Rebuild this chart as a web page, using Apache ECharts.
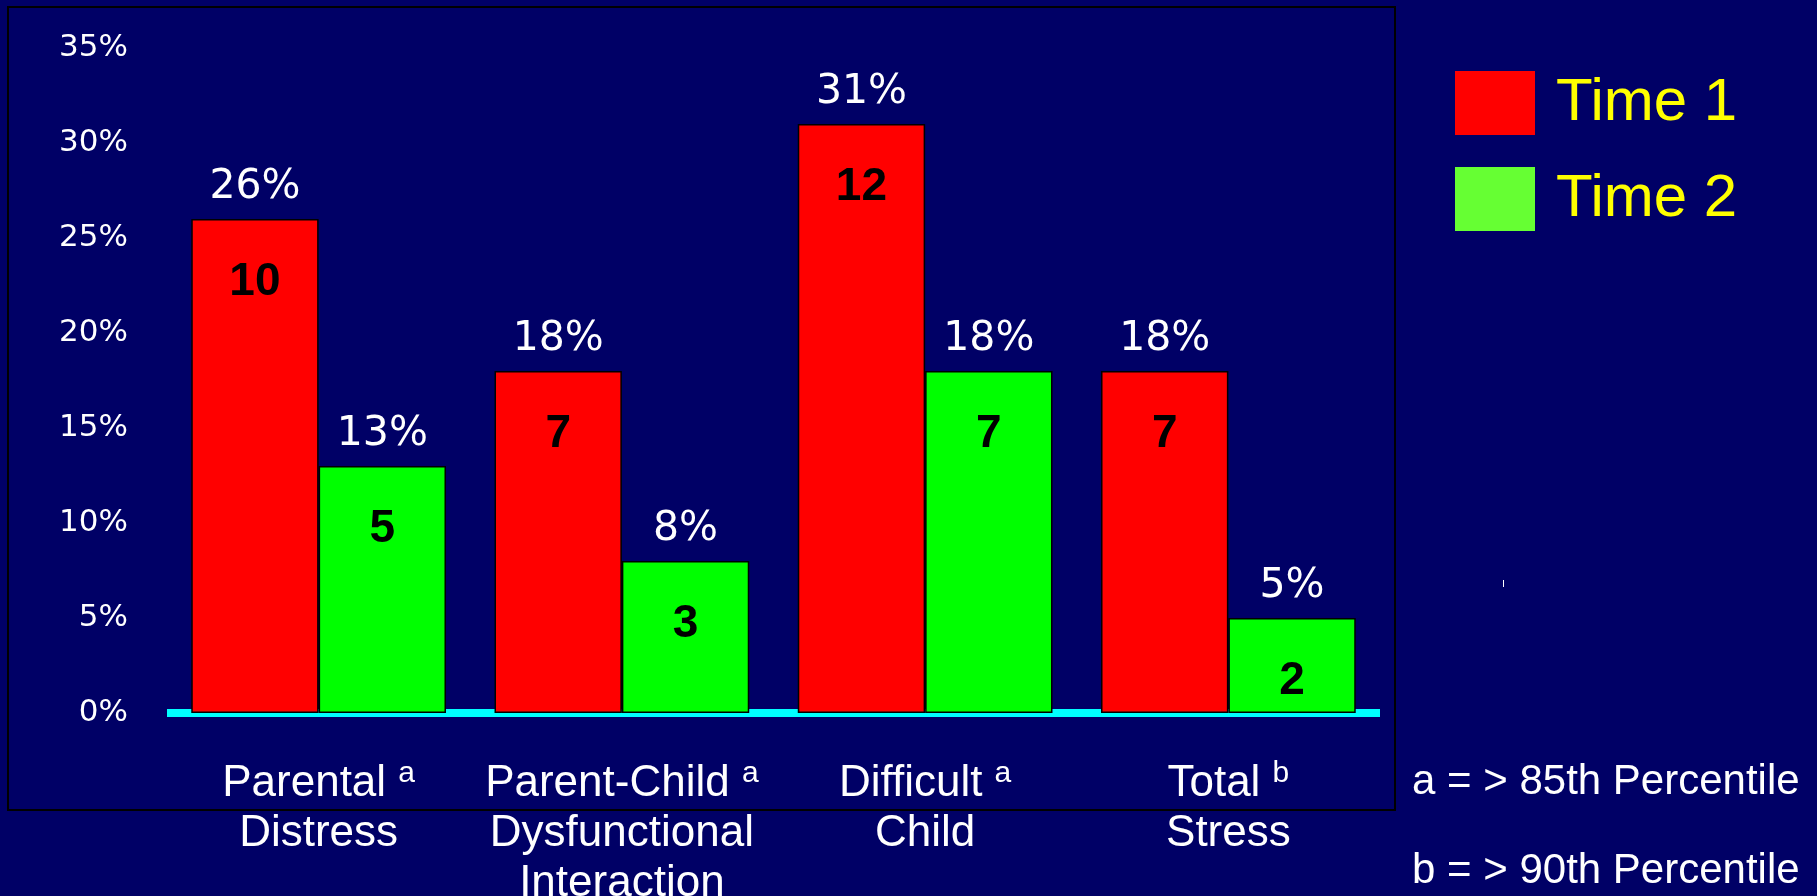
<!DOCTYPE html>
<html>
<head>
<meta charset="utf-8">
<script src="https://cdn.jsdelivr.net/npm/echarts@6/dist/echarts.min.js"></script>
<style>
  html, body { margin: 0; padding: 0; background: #000066; }
  #main { width: 1817px; height: 896px; }
</style>
</head>
<body>
<div id="main"></div>
<script>
const categories = ['Parental\nDistress', 'Parent-Child\nDysfunctional\nInteraction', 'Difficult\nChild', 'Total\nStress']
const sups = ['a', 'a', 'a', 'b']
const time1Pct = [26, 18, 31, 18]
const time1N = [10, 7, 12, 7]
const time2Pct = [13, 8, 18, 5]
const time2N = [5, 3, 7, 2]
const notes = ['a = > 85th Percentile', 'b = > 90th Percentile']

const main = document.getElementById('main')
let myChart = echarts.init(main)

function toData(pct, n) {
    return pct.map((v, i) => ({ value: v, count: n[i] }))
}

// percent goes above the bar, count sits inside near the top
const barLabel = {
    show: true,
    position: 'top',
    distance: 0,
    offset: [0, 111.5],
    formatter: p => `{p|${p.value}%}\n{c|${p.data.count}}`,
    rich: {
        p: { fontFamily: 'DejaVu Sans', fontSize: 41, color: '#fff', lineHeight: 92 },
        c: { fontFamily: 'Liberation Sans', fontWeight: 'bold', fontSize: 46, color: '#000', lineHeight: 97 }
    }
}

myChart.setOption({
    backgroundColor: '#000066',
    animation: false,
    grid: { left: 167, right: 437, top: 48, bottom: 183, outerBoundsMode: 'none', containLabel: false },
    legend: {
        left: 1450,
        top: 66,
        orient: 'vertical',
        itemWidth: 80,
        itemHeight: 64,
        itemGap: 32,
        icon: 'rect',
        itemStyle: { borderWidth: 0 },
        textStyle: { color: '#ffff00', fontFamily: 'Liberation Sans', fontSize: 60, padding: [0, 0, 0, 16] },
        data: [
            { name: 'Time 1', itemStyle: { color: '#ff0000' } },
            { name: 'Time 2', itemStyle: { color: '#66ff33' } }
        ]
    },
    xAxis: {
        type: 'category',
        data: categories,
        offset: 4,
        axisLine: { lineStyle: { color: '#00ffff', width: 8, cap: 'butt' } },
        axisTick: { show: false },
        axisLabel: {
            margin: 42,
            interval: 0,
            formatter: (value, idx) => {
                const lines = value.split('\n')
                return `{t|${lines[0]} }{s|${sups[idx]}}` + lines.slice(1).map(l => `\n{t|${l}}`).join('')
            },
            rich: {
                t: { fontFamily: 'Liberation Sans', fontSize: 44, color: '#fff', lineHeight: 50 },
                s: { fontFamily: 'Liberation Sans', fontSize: 30, color: '#fff', lineHeight: 30, verticalAlign: 'top' }
            }
        }
    },
    yAxis: {
        type: 'value',
        min: 0,
        max: 35,
        interval: 5,
        axisLine: { show: false },
        axisTick: { show: false },
        splitLine: { show: false },
        axisLabel: {
            formatter: '{value}%',
            color: '#fff',
            fontFamily: 'DejaVu Sans',
            fontSize: 31,
            margin: 39,
            padding: [9, 0, 0, 0]
        }
    },
    series: [
        {
            name: 'Time 1',
            type: 'bar',
            barWidth: '42%',
            barGap: '0%',
            itemStyle: { color: '#ff0000', borderColor: '#000', borderWidth: 1.5 },
            label: barLabel,
            data: toData(time1Pct, time1N)
        },
        {
            name: 'Time 2',
            type: 'bar',
            barWidth: '42%',
            barGap: '0%',
            itemStyle: { color: '#00ff00', borderColor: '#000', borderWidth: 1.5 },
            label: barLabel,
            data: toData(time2Pct, time2N)
        }
    ],
    graphic: [
        {
            type: 'rect',
            z: -1,
            shape: { x: 8, y: 7, width: 1387, height: 803 },
            style: { fill: 'none', stroke: '#000', lineWidth: 2 }
        },
        {
            type: 'rect',
            shape: { x: 1503, y: 580, width: 1, height: 7 },
            style: { fill: '#fff' }
        },
        {
            type: 'text',
            left: 1412,
            top: 761,
            style: { text: notes[0], fill: '#fff', font: '42px "Liberation Sans"' }
        },
        {
            type: 'text',
            left: 1412,
            top: 850,
            style: { text: notes[1], fill: '#fff', font: '42px "Liberation Sans"' }
        }
    ]
})
</script>
</body>
</html>
